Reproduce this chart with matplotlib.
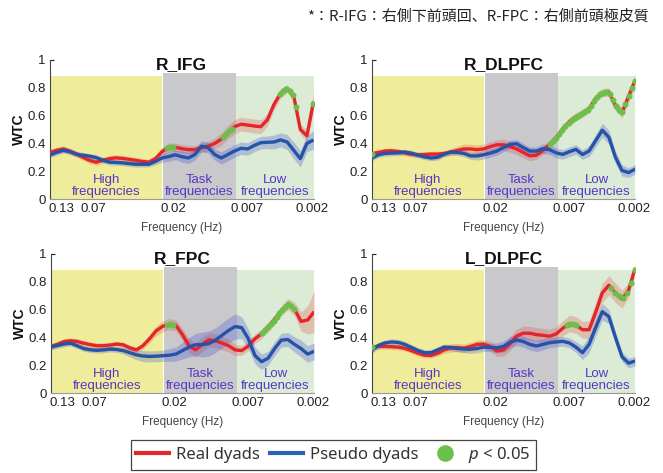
import numpy as np
import matplotlib
matplotlib.use("Agg")
import matplotlib.pyplot as plt
from matplotlib.lines import Line2D

plt.rcParams['font.family'] = ['Liberation Sans', 'DejaVu Sans']
plt.rcParams['mathtext.fontset'] = 'custom'
plt.rcParams['mathtext.it'] = 'Noto Sans:italic'
plt.rcParams['mathtext.rm'] = 'Noto Sans'

# sample positions along the (log-period) frequency axis, 0..100
pos = np.linspace(0, 100, 41)
tick_pos = [4.4, 16.5, 47.0, 74.9, 99.6]
tick_labels = ['0.13', '0.07', '0.02', '0.007', '0.002']

# band edges (axis units) for high / task / low frequency zones
zone_edges = [0, 42.6, 70.7, 100]
zone_names = ['High\nfrequencies', 'Task\nfrequencies', 'Low\nfrequencies']

titles = ['R_IFG', 'R_DLPFC', 'R_FPC', 'L_DLPFC']

# WTC, real dyads
real_ifg = [0.335, 0.35, 0.36, 0.345, 0.325, 0.30, 0.278, 0.265, 0.278, 0.29,
            0.296, 0.292, 0.285, 0.278, 0.27, 0.265, 0.29, 0.34, 0.372, 0.372,
            0.362, 0.355, 0.355, 0.37, 0.38, 0.40, 0.43, 0.48, 0.52, 0.538,
            0.532, 0.525, 0.52, 0.57, 0.68, 0.76, 0.795, 0.74, 0.50, 0.455, 0.70]
real_rdl = [0.325, 0.335, 0.345, 0.347, 0.342, 0.332, 0.322, 0.318, 0.32, 0.323,
            0.323, 0.328, 0.337, 0.35, 0.36, 0.36, 0.355, 0.36, 0.377, 0.39,
            0.39, 0.377, 0.36, 0.335, 0.31, 0.315, 0.35, 0.393, 0.441, 0.504,
            0.556, 0.592, 0.616, 0.65, 0.725, 0.765, 0.77, 0.67, 0.622, 0.74, 0.855]
real_fpc = [0.335, 0.35, 0.37, 0.376, 0.371, 0.358, 0.348, 0.34, 0.34, 0.345,
            0.352, 0.347, 0.325, 0.31, 0.34, 0.39, 0.447, 0.48, 0.495, 0.487,
            0.42, 0.34, 0.31, 0.35, 0.383, 0.375, 0.36, 0.34, 0.31, 0.305,
            0.338, 0.39, 0.425, 0.475, 0.53, 0.59, 0.64, 0.605, 0.515, 0.525, 0.585]
real_ldl = [0.33, 0.335, 0.335, 0.333, 0.33, 0.322, 0.305, 0.287, 0.272, 0.27,
            0.285, 0.31, 0.325, 0.327, 0.322, 0.335, 0.35, 0.352, 0.335, 0.302,
            0.31, 0.355, 0.41, 0.43, 0.43, 0.42, 0.415, 0.408, 0.425, 0.465,
            0.50, 0.49, 0.455, 0.455, 0.58, 0.72, 0.775, 0.72, 0.675, 0.74, 0.90]

# WTC, pseudo dyads
pseudo_ifg = [0.317, 0.335, 0.35, 0.34, 0.322, 0.315, 0.308, 0.298, 0.28, 0.265,
              0.263, 0.26, 0.255, 0.25, 0.25, 0.25, 0.27, 0.295, 0.305, 0.318,
              0.305, 0.295, 0.32, 0.38, 0.37, 0.32, 0.295, 0.32, 0.345, 0.365,
              0.36, 0.385, 0.405, 0.408, 0.41, 0.425, 0.41, 0.35, 0.29, 0.40, 0.425]
pseudo_rdl = [0.294, 0.318, 0.328, 0.33, 0.332, 0.338, 0.33, 0.316, 0.303, 0.295,
              0.30, 0.322, 0.338, 0.335, 0.328, 0.31, 0.31, 0.318, 0.33, 0.345,
              0.37, 0.393, 0.398, 0.37, 0.345, 0.345, 0.362, 0.355, 0.332, 0.321,
              0.34, 0.357, 0.32, 0.345, 0.42, 0.495, 0.445, 0.30, 0.205, 0.19, 0.215]
pseudo_fpc = [0.33, 0.342, 0.352, 0.358, 0.34, 0.32, 0.311, 0.307, 0.31, 0.316,
              0.313, 0.305, 0.29, 0.275, 0.266, 0.263, 0.265, 0.268, 0.272, 0.28,
              0.305, 0.33, 0.348, 0.348, 0.355, 0.38, 0.415, 0.45, 0.478, 0.47,
              0.39, 0.27, 0.225, 0.25, 0.32, 0.38, 0.385, 0.35, 0.32, 0.28, 0.30]
pseudo_ldl = [0.306, 0.342, 0.36, 0.367, 0.364, 0.35, 0.328, 0.306, 0.29, 0.29,
              0.31, 0.33, 0.327, 0.32, 0.316, 0.315, 0.32, 0.33, 0.328, 0.325,
              0.335, 0.365, 0.382, 0.37, 0.35, 0.338, 0.35, 0.362, 0.367, 0.372,
              0.36, 0.33, 0.29, 0.35, 0.47, 0.585, 0.55, 0.40, 0.26, 0.215, 0.23]

# half widths of the shaded error bands
real_err_ifg = [0.022] * 16 + [0.025, 0.03, 0.03, 0.03, 0.03, 0.03, 0.03, 0.032, 0.035, 0.04,
                               0.045, 0.048, 0.05, 0.05, 0.05, 0.05, 0.05, 0.045, 0.04, 0.035,
                               0.03, 0.03, 0.035, 0.045, 0.06]
pseudo_err_ifg = [0.02] * 16 + [0.025, 0.03, 0.035, 0.035, 0.04, 0.04, 0.04, 0.04, 0.04, 0.04,
                                0.045, 0.045, 0.045, 0.045, 0.045, 0.045, 0.045, 0.045, 0.05, 0.05,
                                0.055, 0.06, 0.06, 0.06, 0.065]
real_err_rdl = [0.02] * 12 + [0.025, 0.03, 0.035, 0.035, 0.035, 0.035, 0.035, 0.035, 0.04, 0.04,
                              0.04, 0.04, 0.035, 0.03, 0.03, 0.03, 0.03, 0.03, 0.03, 0.03,
                              0.03, 0.03, 0.03, 0.03, 0.03, 0.035, 0.04, 0.045, 0.05]
pseudo_err_rdl = [0.02] * 14 + [0.025, 0.025, 0.03, 0.03, 0.03, 0.03, 0.03, 0.03, 0.03, 0.03,
                                0.03, 0.03, 0.035, 0.035, 0.035, 0.035, 0.035, 0.035, 0.035, 0.04,
                                0.045, 0.05, 0.05, 0.045, 0.04, 0.035, 0.035]
real_err_fpc = [0.02] * 14 + [0.025, 0.03, 0.035, 0.04, 0.04, 0.04, 0.045, 0.05, 0.05, 0.05,
                              0.05, 0.05, 0.05, 0.045, 0.04, 0.035, 0.035, 0.035, 0.035, 0.035,
                              0.035, 0.035, 0.04, 0.05, 0.07, 0.1, 0.15]
pseudo_err_fpc = [0.02] * 11 + [0.025, 0.03, 0.035, 0.04, 0.04, 0.04, 0.04, 0.045, 0.05, 0.06,
                                0.07, 0.08, 0.09, 0.09, 0.09, 0.09, 0.09, 0.09, 0.08, 0.07,
                                0.06, 0.055, 0.05, 0.05, 0.05, 0.05, 0.055, 0.06, 0.06, 0.06]
real_err_ldl = [0.02] * 11 + [0.025, 0.03, 0.03, 0.03, 0.03, 0.03, 0.03, 0.035, 0.04, 0.045,
                              0.05, 0.05, 0.05, 0.05, 0.05, 0.05, 0.05, 0.05, 0.055, 0.06,
                              0.06, 0.06, 0.065, 0.07, 0.07, 0.07, 0.07, 0.065, 0.05, 0.03]
pseudo_err_ldl = [0.022] * 14 + [0.025, 0.03, 0.03, 0.03, 0.03, 0.035, 0.04, 0.04, 0.04, 0.04,
                                 0.04, 0.04, 0.04, 0.035, 0.035, 0.035, 0.035, 0.04, 0.05, 0.06,
                                 0.06, 0.06, 0.05, 0.04, 0.035, 0.035, 0.035]

# positions where real dyads differ significantly (p < 0.05)
sig_ifg = [44.5, 45.5, 46.5, 65.7, 66.8, 67.9, 69.0, 87.3, 88.5, 89.7, 90.9, 92.1, 93.3, 99.8]
sig_rdl = [0.3, 67.5, 68.7, 69.9, 71.1, 72.3, 73.5, 74.7, 75.9, 77.1, 78.3, 79.5, 80.7, 81.9,
           83.1, 84.3, 85.5, 86.7, 87.9, 89.1, 90.3, 91.5, 92.7, 93.9, 95.1, 96.3, 97.5, 98.7, 99.8]
sig_fpc = [44.3, 45.3, 46.3, 80.2, 81.3, 82.4, 83.5, 84.6, 85.7, 86.8, 87.9, 89.0, 90.1, 91.2, 92.3]
sig_ldl = [0.2, 74.3, 75.4, 76.5, 77.6, 90.9, 92.4, 93.9, 95.3, 96.8, 98.3, 99.8]

panels = [
    (titles[0], real_ifg, real_err_ifg, pseudo_ifg, pseudo_err_ifg, sig_ifg),
    (titles[1], real_rdl, real_err_rdl, pseudo_rdl, pseudo_err_rdl, sig_rdl),
    (titles[2], real_fpc, real_err_fpc, pseudo_fpc, pseudo_err_fpc, sig_fpc),
    (titles[3], real_ldl, real_err_ldl, pseudo_ldl, pseudo_err_ldl, sig_ldl),
]

RED = '#e4262b'
BLUE = '#2553a8'
GREEN = '#6cc04a'
PURPLE = '#5636c4'
zone_colors = ['#efed9b', '#c9c9cc', '#dcebd6']
zone_tops = [0.885, 0.91, 0.885]

fig = plt.figure(figsize=(6.63, 4.73), dpi=100)
W, H = 663, 473
boxes = [(50, 60), (371.7, 60), (50.7, 254), (371.7, 254)]

for (left, top), (name, real, rerr, pseudo, perr, sig) in zip(boxes, panels):
    ax = fig.add_axes([left / W, 1 - (top + 139) / H, 263.5 / W, 139 / H])
    ax.set_xlim(0, 100)
    ax.set_ylim(0, 1)
    ax.set_axisbelow(True)

    for i in range(3):
        ax.fill_between([zone_edges[i], zone_edges[i + 1]], 0, zone_tops[i],
                        color=zone_colors[i], lw=0, zorder=0.8)
        ax.text((zone_edges[i] + zone_edges[i + 1]) / 2, 0.105, zone_names[i],
                ha='center', va='center_baseline', color=PURPLE, fontsize=9.5,
                linespacing=1.05, zorder=1)
    ax.plot([zone_edges[1]] * 2, [0, zone_tops[1]], color='white', lw=0.8, zorder=0.9)

    real = np.array(real)
    pseudo = np.array(pseudo)
    ax.fill_between(pos, real - np.array(rerr), real + np.array(rerr),
                    color=RED, alpha=0.22, lw=0, zorder=2)
    ax.fill_between(pos, pseudo - np.array(perr), pseudo + np.array(perr),
                    color='#3b48d0', alpha=0.27, lw=0, zorder=2)
    ax.plot(pos, real, color=RED, lw=2.4, zorder=3, solid_capstyle='butt')
    ax.plot(pos, pseudo, color=BLUE, lw=2.4, zorder=3, solid_capstyle='butt')
    ax.plot(sig, np.interp(sig, pos, real), 'o', color=GREEN, ms=4.3, mew=0, zorder=4)

    ax.text(50, 0.965, name, ha='center', va='center', fontsize=12.5,
            fontweight='bold', color='#111')

    ax.set_xticks(tick_pos)
    ax.set_xticklabels(tick_labels)
    ax.set_yticks([0, 0.2, 0.4, 0.6, 0.8, 1])
    ax.set_yticklabels(['0', '0.2', '0.4', '0.6', '0.8', '1'])
    ax.tick_params(direction='in', length=3, labelsize=9.5, colors='#222', pad=3)
    for s in ['top', 'right']:
        ax.spines[s].set_visible(False)
    ax.spines['left'].set_color('#444')
    ax.spines['bottom'].set_color('#999')
    ax.set_xlabel('Frequency (Hz)', fontsize=8.5, color='#444', labelpad=5)
    ax.set_ylabel('WTC', fontsize=10, fontweight='bold', color='#111', labelpad=1)

fig.text(0.978, 0.965, '*：R-IFG：右側下前頭回、R-FPC：右側前頭極皮質',
         ha='right', va='center', fontsize=10.8, color='#222',
         family=['Noto Sans CJK JP', 'DejaVu Sans'])

handles = [Line2D([], [], color=RED, lw=3),
           Line2D([], [], color='#2a64b0', lw=3),
           Line2D([], [], ls='none', marker='o', color=GREEN, ms=12, mew=0)]
labels = ['Real dyads', 'Pseudo dyads', '$p$ < 0.05']
leg = fig.legend(handles, labels, loc='center', bbox_to_anchor=(0.503, 0.039), ncol=3,
                 frameon=True, fancybox=False, edgecolor='#444', framealpha=1,
                 prop={'family': 'Noto Sans', 'size': 12}, handlelength=2.0,
                 handletextpad=0.4, columnspacing=0.6, borderpad=0.3)
leg.get_frame().set_linewidth(0.9)
for t in leg.get_texts():
    t.set_color('#333')

fig.savefig('out.png', dpi=100)
